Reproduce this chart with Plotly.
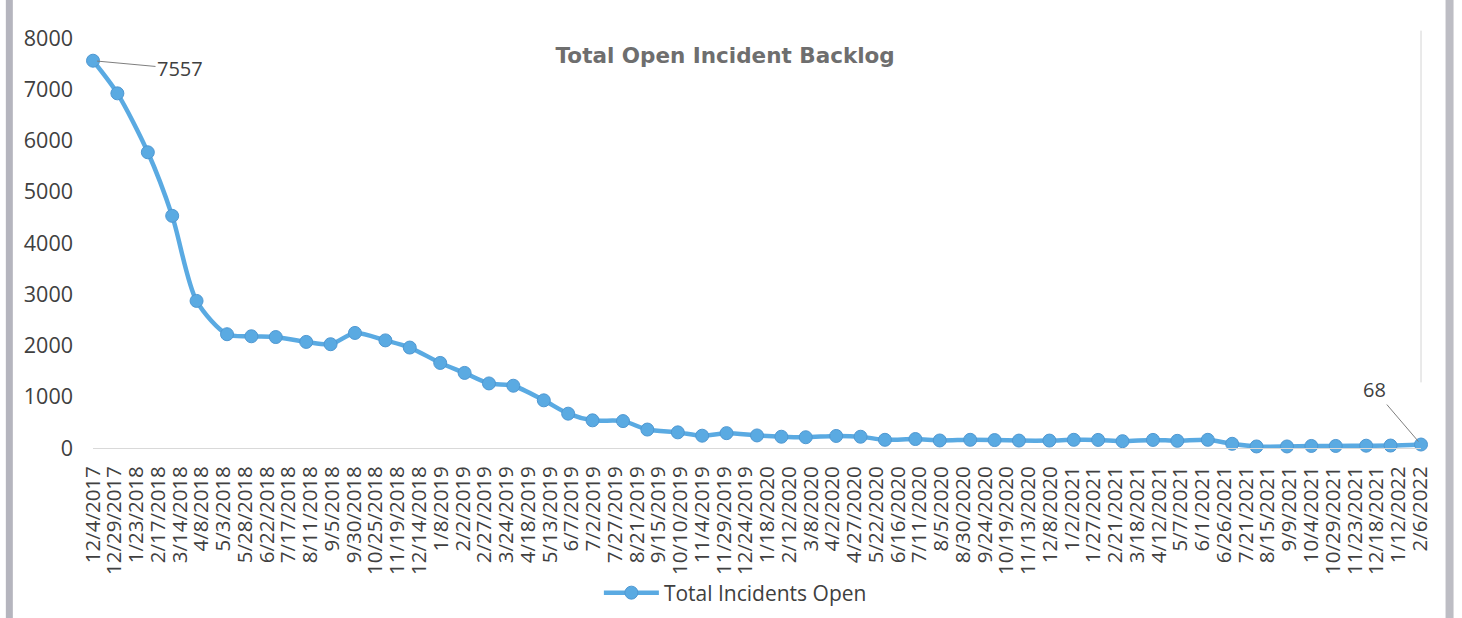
import pandas as pd
import plotly.graph_objects as go

# ---------------- data ----------------
dates = [
    "2017-12-04", "2018-01-01", "2018-02-05", "2018-03-05", "2018-04-02", "2018-05-07",
    "2018-06-04", "2018-07-02", "2018-08-06", "2018-09-03", "2018-10-01", "2018-11-05",
    "2018-12-03", "2019-01-07", "2019-02-04", "2019-03-04", "2019-04-01", "2019-05-06",
    "2019-06-03", "2019-07-01", "2019-08-05", "2019-09-02", "2019-10-07", "2019-11-04",
    "2019-12-02", "2020-01-06", "2020-02-03", "2020-03-02", "2020-04-06", "2020-05-04",
    "2020-06-01", "2020-07-06", "2020-08-03", "2020-09-07", "2020-10-05", "2020-11-02",
    "2020-12-07", "2021-01-04", "2021-02-01", "2021-03-01", "2021-04-05", "2021-05-03",
    "2021-06-07", "2021-07-05", "2021-08-02", "2021-09-06", "2021-10-04", "2021-11-01",
    "2021-12-06", "2022-01-03", "2022-02-07",
]
incidents_open = [
    7557, 6920, 5770, 4530, 2870, 2220,
    2180, 2165, 2070, 2025, 2245, 2100,
    1960, 1660, 1465, 1260, 1215, 930,
    670, 540, 525, 360, 305, 240,
    290, 245, 220, 210, 235, 220,
    160, 175, 147, 160, 155, 145,
    145, 160, 158, 133, 158, 140,
    160, 82, 30, 30, 40, 40,
    45, 48, 68,
]
tick_labels = [
    "12/4/2017", "12/29/2017", "1/23/2018", "2/17/2018", "3/14/2018", "4/8/2018",
    "5/3/2018", "5/28/2018", "6/22/2018", "7/17/2018", "8/11/2018", "9/5/2018",
    "9/30/2018", "10/25/2018", "11/19/2018", "12/14/2018", "1/8/2019", "2/2/2019",
    "2/27/2019", "3/24/2019", "4/18/2019", "5/13/2019", "6/7/2019", "7/2/2019",
    "7/27/2019", "8/21/2019", "9/15/2019", "10/10/2019", "11/4/2019", "11/29/2019",
    "12/24/2019", "1/18/2020", "2/12/2020", "3/8/2020", "4/2/2020", "4/27/2020",
    "5/22/2020", "6/16/2020", "7/11/2020", "8/5/2020", "8/30/2020", "9/24/2020",
    "10/19/2020", "11/13/2020", "12/8/2020", "1/2/2021", "1/27/2021", "2/21/2021",
    "3/18/2021", "4/12/2021", "5/7/2021", "6/1/2021", "6/26/2021", "7/21/2021",
    "8/15/2021", "9/9/2021", "10/4/2021", "10/29/2021", "11/23/2021", "12/18/2021",
    "1/12/2022", "2/6/2022",
]
y_ticks = [0, 1000, 2000, 3000, 4000, 5000, 6000, 7000, 8000]
series_name = "Total Incidents Open"
title_text = "Total Open Incident Backlog"

# ---------------- figure ----------------
x_dates = pd.to_datetime(dates)
tick_vals = pd.to_datetime(tick_labels, format="%m/%d/%Y")

BLUE = "#5aaae2"
TEXT = "#404040"
FONT = "Open Sans"

fig = go.Figure()
fig.add_trace(go.Scatter(
    x=x_dates, y=incidents_open, name=series_name,
    mode="lines+markers",
    line=dict(color=BLUE, width=4.5, shape="spline", smoothing=0.8),
    marker=dict(size=13, color=BLUE, line=dict(color="#4f98d2", width=1)),
    cliponaxis=False,
))

# data labels (first and last point)
fig.add_annotation(x=x_dates[0], y=incidents_open[0], text=str(incidents_open[0]),
                   showarrow=True, arrowhead=0, arrowwidth=1, arrowcolor="#7f7f7f",
                   ax=87, ay=8, xanchor="center", yanchor="middle",
                   font=dict(family=FONT, size=20, color=TEXT), standoff=4)
fig.add_annotation(x=x_dates[-1], y=incidents_open[-1], text=str(incidents_open[-1]),
                   showarrow=True, arrowhead=0, arrowwidth=1, arrowcolor="#7f7f7f",
                   ax=-47, ay=-55, xanchor="center", yanchor="middle",
                   font=dict(family=FONT, size=20, color=TEXT), standoff=4)

fig.update_layout(
    width=1462, height=618,
    margin=dict(l=93, r=41, t=38, b=170, autoexpand=False),
    paper_bgcolor="white", plot_bgcolor="white",
    title=dict(text="<b>" + title_text + "</b>", x=0.496, xref="container", xanchor="center",
               y=1 - 55 / 618, yref="container", yanchor="middle",
               font=dict(family="DejaVu Sans", size=21.5, color="#6e6e6e")),
    showlegend=True,
    legend=dict(orientation="h", x=0.503, xref="container", xanchor="center",
                y=1 - 593 / 618, yref="container", yanchor="middle",
                font=dict(family=FONT, size=21, color=TEXT),
                itemwidth=55, bgcolor="rgba(0,0,0,0)"),
    xaxis=dict(
        type="date", automargin=False,
        range=[x_dates[0], x_dates[-1]],
        tickmode="array", tickvals=tick_vals, ticktext=tick_labels,
        tickangle=-90,
        tickfont=dict(family=FONT, size=20.5, color=TEXT),
        showgrid=False, zeroline=False,
        showline=True, linecolor="#d9d9d9", linewidth=1,
        ticks="", ticklabelstandoff=9,
    ),
    yaxis=dict(
        range=[0, 8000], tickmode="array", tickvals=y_ticks, automargin=False,
        tickfont=dict(family=FONT, size=21.5, color=TEXT),
        showgrid=False, zeroline=False, showline=False,
        ticks="", ticklabelstandoff=19,
    ),
    shapes=[
        # scanned chart frame strips
        dict(type="line", xref="paper", yref="paper", x0=-0.063, x1=-0.063, y0=-0.45, y1=1.1,
             line=dict(color="#b5b5be", width=7)),
        dict(type="line", xref="paper", yref="paper", x0=1.0215, x1=1.0215, y0=-0.45, y1=1.1,
             line=dict(color="#bdbdc4", width=8)),
        dict(type="line", xref="paper", yref="paper", x0=1.0, x1=1.0, y0=0.16, y1=1.018,
             line=dict(color="#d4d4d4", width=1)),
    ],
)

fig.write_html("out.html")
